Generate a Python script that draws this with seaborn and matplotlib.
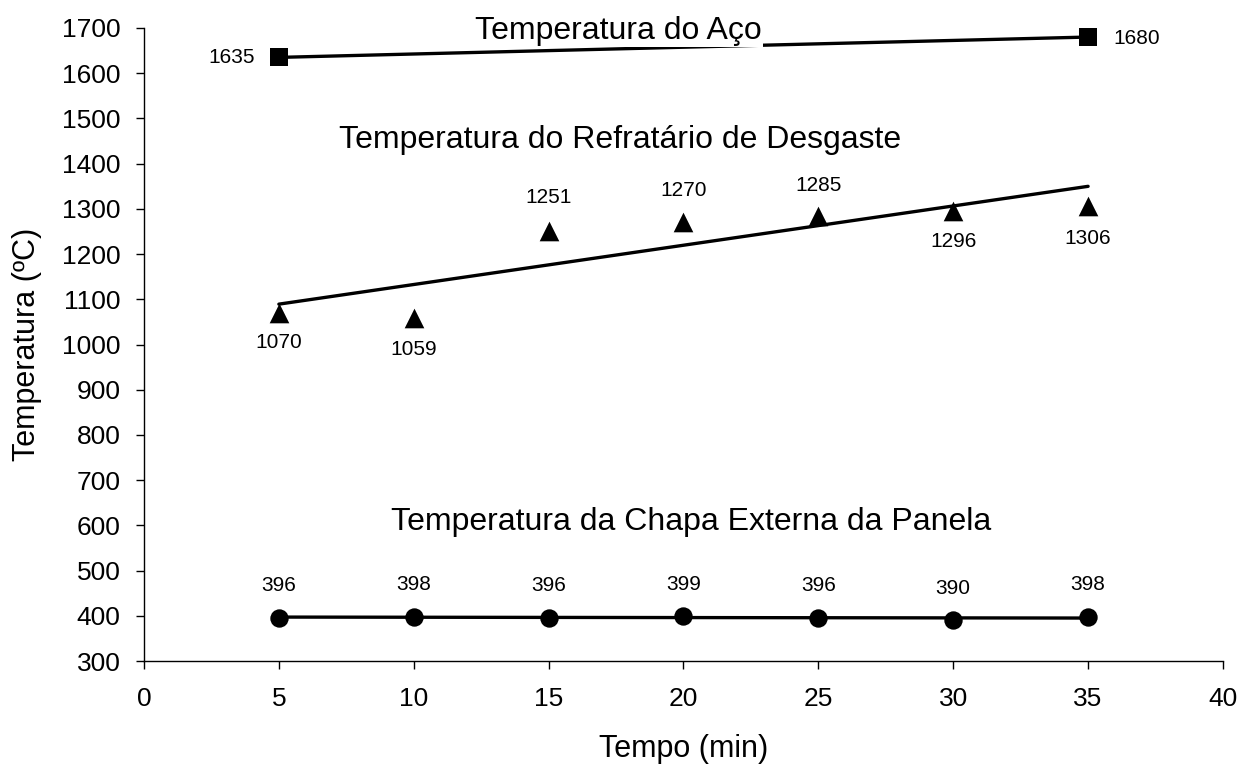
import numpy as np
import pandas as pd
import matplotlib.pyplot as plt
import seaborn as sns

# Data
tempo_aco = [5, 35]
temp_aco = [1635, 1680]

tempo_refr = [5, 10, 15, 20, 25, 30, 35]
temp_refr = [1070, 1059, 1251, 1270, 1285, 1296, 1306]

tempo_chapa = [5, 10, 15, 20, 25, 30, 35]
temp_chapa = [396, 398, 396, 399, 396, 390, 398]

sns.set_style("ticks")
plt.rcParams['font.family'] = ['Liberation Sans', 'DejaVu Sans']
plt.rcParams.update({'text.color': 'black', 'axes.labelcolor': 'black',
                     'xtick.color': 'black', 'ytick.color': 'black',
                     'axes.edgecolor': 'black'})

fig = plt.figure(figsize=(12.51, 7.65), dpi=100)
ax = fig.add_axes([0.1151, 0.1359, 0.8625, 0.8275])

line_kws = {'color': 'black', 'linewidth': 2.4, 'zorder': 2}

# Steel (two points joined by trend line)
sns.regplot(x=tempo_aco, y=temp_aco, ax=ax, ci=None, marker='s', color='black',
            scatter_kws={'s': 170, 'zorder': 3, 'linewidths': 0, 'alpha': 1}, line_kws=line_kws)

# Refractory (linear trendline)
sns.regplot(x=tempo_refr, y=temp_refr, ax=ax, ci=None, marker='^', color='black',
            scatter_kws={'s': 200, 'zorder': 3, 'linewidths': 0, 'alpha': 1}, line_kws=line_kws)

# Shell (linear trendline)
sns.regplot(x=tempo_chapa, y=temp_chapa, ax=ax, ci=None, marker='o', color='black',
            scatter_kws={'s': 175, 'zorder': 3, 'linewidths': 0, 'alpha': 1}, line_kws=line_kws)

# Value labels
lbl = dict(fontsize=15, ha='center', va='center', textcoords='offset points')
ax.annotate(str(temp_aco[0]), (tempo_aco[0], temp_aco[0]), xytext=(-34, 0), **lbl)
ax.annotate(str(temp_aco[1]), (tempo_aco[1], temp_aco[1]), xytext=(35, -1), **lbl)

refr_offsets = [(0, -21), (0, -23), (0, 24), (0, 23), (0, 22), (0, -22), (0, -23)]
for x, y, off in zip(tempo_refr, temp_refr, refr_offsets):
    ax.annotate(str(y), (x, y), xytext=off, **lbl)

for x, y in zip(tempo_chapa, temp_chapa):
    ax.annotate(str(y), (x, y), xytext=(0, 23), **lbl)

# Series titles
ttl = dict(fontsize=23, ha='center', va='center', zorder=4)
ax.text(17.57, 1694, "Temperatura do Aço",
        bbox=dict(facecolor='white', edgecolor='none', pad=1.0), **ttl)
ax.text(17.65, 1452, "Temperatura do Refratário de Desgaste", **ttl)
ax.text(20.3, 608, "Temperatura da Chapa Externa da Panela", **ttl)

ax.set_xlim(0, 40)
ax.set_ylim(300, 1700)
ax.set_xticks(np.arange(0, 41, 5))
ax.set_yticks(np.arange(300, 1701, 100))
ax.tick_params(axis='both', labelsize=19, length=6, width=1)
ax.tick_params(axis='x', pad=13)
ax.tick_params(axis='y', pad=11)
ax.set_xlabel("Tempo (min)", fontsize=22, labelpad=16)
ax.set_ylabel("Temperatura (ºC)", fontsize=22, labelpad=14)
sns.despine(ax=ax)
for s in ['left', 'bottom']:
    ax.spines[s].set_linewidth(1)

fig.savefig("out.png", dpi=100)
